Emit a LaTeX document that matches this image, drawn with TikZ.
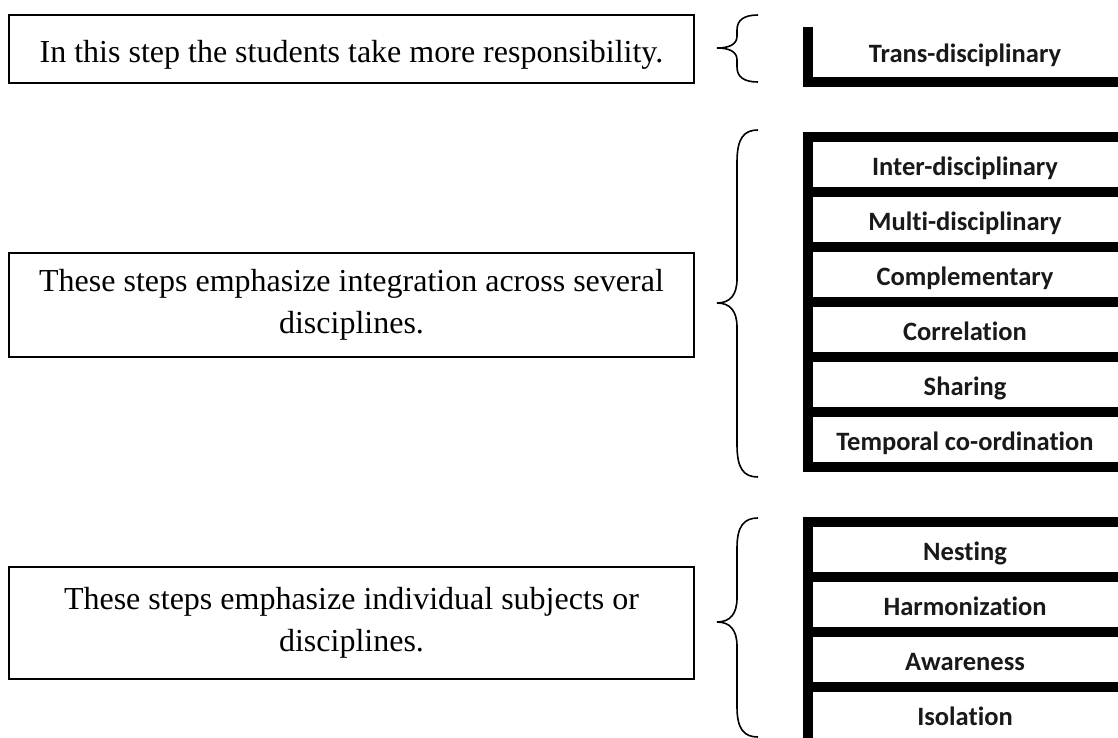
\documentclass[tikz,border=0pt]{standalone}
\usepackage{fontspec}
\setmainfont{Liberation Serif}
\newfontfamily\rungfont[Ligatures=NoCommon]{Carlito}

\tikzset{
    notebox/.style={draw=black, line width=2pt, minimum width=685pt, inner sep=0pt, align=center, font=\fontsize{32}{42}\selectfont},
    rung/.style={fill=black},
    levellabel/.style={anchor=base, text=black!90, font=\rungfont\bfseries\fontsize{26.5}{30}\selectfont},
    bracket/.style={draw=black, line width=1.6pt},
}

\begin{document}
\begin{tikzpicture}[x=1pt,y=-1pt]
    \useasboundingbox (0,0) rectangle (1118,738);

    \node[notebox, minimum height=68pt, text height=28pt, text depth=0pt] (note1) at (351.5,49) {In this step the students take more responsibility.};
    \node[notebox, minimum height=104pt] (note2) at (351.5,305) {These steps emphasize integration across several\\disciplines.};
    \node[notebox, minimum height=112pt] (note3) at (351.5,623) {These steps emphasize individual subjects or\\disciplines.};

    \draw[bracket] (758,15) .. controls (744,15) and (737,20) .. (737,30) -- (737,36) .. controls (737,44) and (730,48) .. (717,48) .. controls (730,48) and (737,52) .. (737,60) -- (737,67) .. controls (737,77) and (744,82) .. (758,82);
    \draw[bracket] (758,130) .. controls (744,130) and (737,138) .. (737,162) -- (737,279) .. controls (737,295) and (730,303) .. (717,303) .. controls (730,303) and (737,311) .. (737,327) -- (737,445) .. controls (737,469) and (744,477) .. (758,477);
    \draw[bracket] (758,518) .. controls (744,518) and (737,526) .. (737,548) -- (737,598) .. controls (737,614) and (730,622) .. (717,622) .. controls (730,622) and (737,630) .. (737,646) -- (737,707) .. controls (737,729) and (744,737) .. (758,737);

    \fill[rung] (803,27) rectangle (813,87);
    \fill[rung] (803,132) rectangle (813,472);
    \fill[rung] (803,517) rectangle (813,738);

    \fill[rung] (803,77) rectangle (1118,87);
    \fill[rung] (803,132) rectangle (1118,142);
    \fill[rung] (803,187) rectangle (1118,197);
    \fill[rung] (803,242) rectangle (1118,252);
    \fill[rung] (803,297) rectangle (1118,307);
    \fill[rung] (803,352) rectangle (1118,362);
    \fill[rung] (803,407) rectangle (1118,417);
    \fill[rung] (803,462) rectangle (1118,472);
    \fill[rung] (803,517) rectangle (1118,527);
    \fill[rung] (803,572) rectangle (1118,582);
    \fill[rung] (803,627) rectangle (1118,637);
    \fill[rung] (803,682) rectangle (1118,692);

    \node[levellabel] (trans) at (965,63) {Trans-disciplinary};
    \node[levellabel] (inter) at (965,175.5) {Inter-disciplinary};
    \node[levellabel] (multi) at (965,230.5) {Multi-disciplinary};
    \node[levellabel] (compl) at (965,285.5) {Complementary};
    \node[levellabel] (corr) at (965,340.5) {Correlation};
    \node[levellabel] (share) at (965,395.5) {Sharing};
    \node[levellabel] (temp) at (965,450.5) {Temporal co-ordination};
    \node[levellabel] (nest) at (965,560.5) {Nesting};
    \node[levellabel] (harm) at (965,615.5) {Harmonization};
    \node[levellabel] (aware) at (965,670.5) {Awareness};
    \node[levellabel] (isol) at (965,725.5) {Isolation};
\end{tikzpicture}
\end{document}
